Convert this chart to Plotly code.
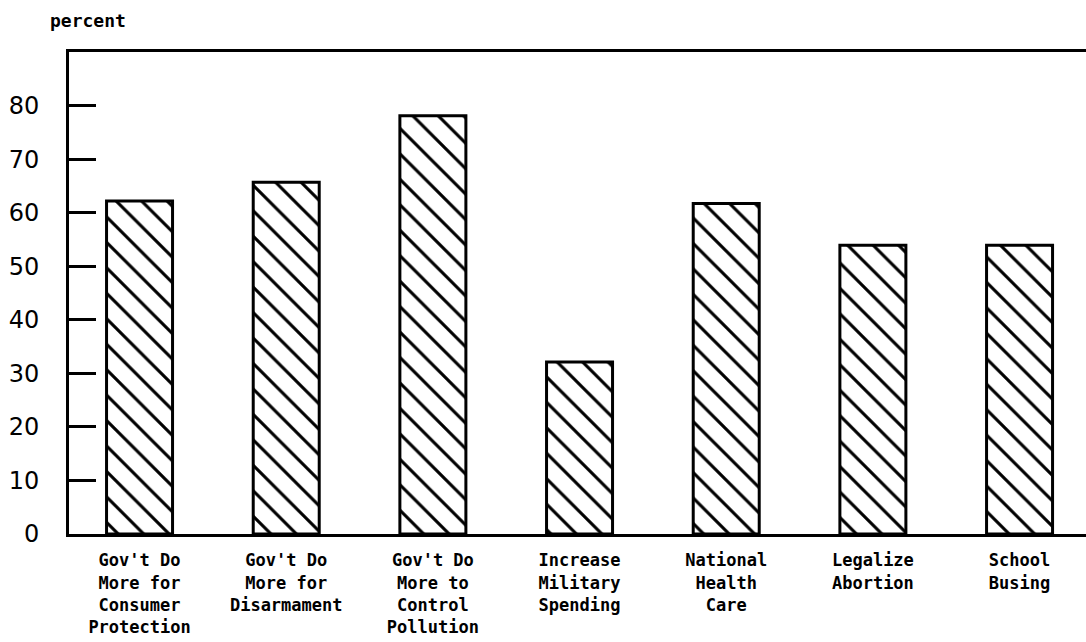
import plotly.graph_objects as go

categories = [
    "Gov't Do<br>More for<br>Consumer<br>Protection",
    "Gov't Do<br>More for<br>Disarmament",
    "Gov't Do<br>More to<br>Control<br>Pollution",
    "Increase<br>Military<br>Spending",
    "National<br>Health<br>Care",
    "Legalize<br>Abortion",
    "School<br>Busing",
]
values = [62.2, 65.7, 78.1, 32.1, 61.7, 53.9, 53.9]
y_ticks = [0, 10, 20, 30, 40, 50, 60, 70, 80]

mono = "DejaVu Sans Mono"

fig = go.Figure()
fig.add_trace(go.Bar(
    x=list(range(len(categories))),
    y=values,
    width=0.45,
    marker=dict(
        color="white",
        line=dict(color="black", width=3),
        pattern=dict(shape="\\", fgcolor="black", bgcolor="white", size=18,
                     solidity=0.17, fgopacity=1),
    ),
))

fig.update_layout(
    width=1086, height=642,
    margin=dict(l=69, r=0, t=52, b=108, autoexpand=False),
    paper_bgcolor="white", plot_bgcolor="white",
    showlegend=False,
    font=dict(family=mono, color="black"),
    xaxis=dict(
        range=[-0.481, 6.453],
        tickmode="array",
        tickvals=list(range(len(categories))),
        ticktext=["<b>%s</b>" % c for c in categories],
        tickfont=dict(size=17, family=mono),
        showline=True, linecolor="black", linewidth=3, mirror=True,
        ticks="", showgrid=False, zeroline=False,
        ticklabelstandoff=9,
    ),
    yaxis=dict(
        range=[0, 90],
        tickmode="array",
        tickvals=y_ticks,
        ticktext=[str(v) for v in y_ticks],
        tickfont=dict(size=24, family="DejaVu Sans"),
        showline=True, linecolor="black", linewidth=3,
        ticks="inside", ticklen=27, tickwidth=3, tickcolor="black",
        showgrid=False, zeroline=False,
        ticklabelstandoff=22,
    ),
    annotations=[dict(
        text="<b>percent</b>", xref="paper", yref="paper",
        x=-0.021, y=1.066, xanchor="left", yanchor="middle",
        showarrow=False, font=dict(size=18, family=mono),
    )],
)
fig.write_html("out.html", config={"displayModeBar": False},
               post_script="document.body.style.margin='0';document.body.style.overflow='hidden';")
